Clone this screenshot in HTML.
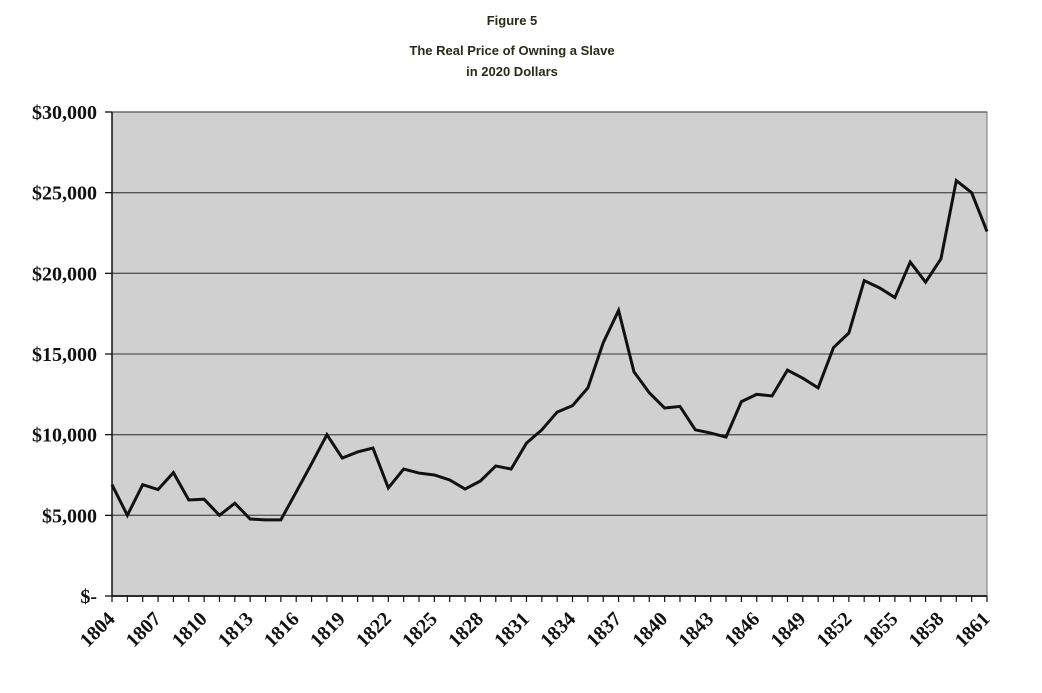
<!DOCTYPE html>
<html><head><meta charset="utf-8"><style>
body{margin:0;background:#fff;}
svg{display:block;}
.t{font-family:"Liberation Sans",sans-serif;font-weight:bold;font-size:13px;fill:#2a2a1a;}
.ax{font-family:"Liberation Serif",serif;font-weight:bold;font-size:20px;fill:#111;}
.xl{font-family:"Liberation Serif",serif;font-weight:bold;font-size:20px;fill:#111;}
</style></head><body>
<svg id="c" width="1042" height="693">
<text class="t" x="512" y="25" text-anchor="middle">Figure 5</text>
<text class="t" x="512" y="55" text-anchor="middle">The Real Price of Owning a Slave</text>
<text class="t" x="512" y="76" text-anchor="middle">in 2020 Dollars</text>
</svg>
<script>
const years=[];for(let y=1804;y<=1861;y++)years.push(y);
const prices=[6900,5000,6900,6600,7650,5950,6000,5000,5750,4770,4720,4720,6450,8200,10000,8550,8930,9170,6700,7870,7620,7500,7190,6630,7130,8060,7870,9480,10300,11400,11800,12900,15700,17700,13900,12600,11650,11750,10300,10100,9850,12050,12500,12400,14000,13500,12900,15400,16300,19550,19100,18500,20700,19450,20900,25750,25000,22600];
const yTicks=[0,5000,10000,15000,20000,25000,30000];
const yTickLabels=["$-","$5,000","$10,000","$15,000","$20,000","$25,000","$30,000"];
const xLabelYears=[1804,1807,1810,1813,1816,1819,1822,1825,1828,1831,1834,1837,1840,1843,1846,1849,1852,1855,1858,1861];
const L=112,R=987,T=112,B=596,NS="http://www.w3.org/2000/svg";
const svg=document.getElementById('c');
const xs=y=>L+(y-years[0])/(years[years.length-1]-years[0])*(R-L);
const ys=v=>B-v/30000*(B-T);
function mk(t,a){const e=document.createElementNS(NS,t);for(const k in a)e.setAttribute(k,a[k]);svg.appendChild(e);return e;}
let e=mk('rect',{x:L,y:T,width:R-L,height:B-T,fill:'#d0d0d0',stroke:'#777','stroke-width':1});


yTicks.forEach((v,i)=>{
  if(v>0){e=mk('line',{x1:L,x2:R,y1:ys(v),y2:ys(v),stroke:'#555','stroke-width':1.3});
  
  }
  mk('line',{x1:L-7,x2:L,y1:ys(v),y2:ys(v),stroke:'#111','stroke-width':1.3});
  e=mk('text',{x:97,y:ys(v)+7,'text-anchor':'end',class:'ax'});e.textContent=yTickLabels[i];
  
  
});
mk('line',{x1:L,x2:L,y1:T,y2:B,stroke:'#111','stroke-width':1.5});
mk('line',{x1:L,x2:R,y1:B,y2:B,stroke:'#111','stroke-width':1.8});
years.forEach(y=>mk('line',{x1:xs(y),x2:xs(y),y1:B,y2:B+6,stroke:'#111','stroke-width':1.2}));
xLabelYears.forEach(y=>{
  const x=xs(y)+4,yy=620;
  e=mk('text',{x:x,y:yy,'text-anchor':'end',class:'xl',transform:`rotate(-45 ${x} ${yy})`});e.textContent=y;
  
  
});
e=mk('polyline',{points:years.map((y,i)=>xs(y)+','+ys(prices[i])).join(' '),fill:'none',stroke:'#111','stroke-width':3,'stroke-linejoin':'miter'});


</script>
</body></html>
